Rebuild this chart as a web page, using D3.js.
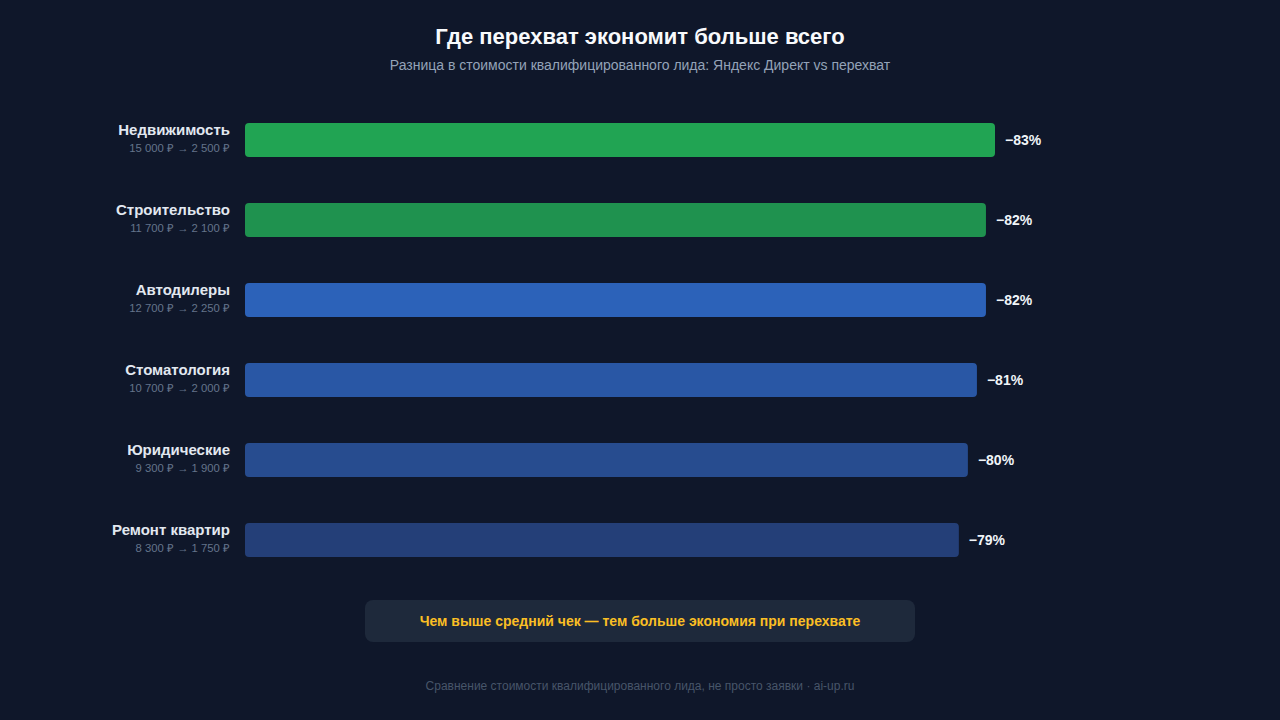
<!DOCTYPE html>
<html>
<head>
<meta charset="utf-8">
<script src="https://cdn.jsdelivr.net/npm/d3@7"></script>
<style>
  html, body { margin: 0; padding: 0; background: #0f172a; }
  svg { display: block; font-family: "Liberation Sans", Arial, sans-serif; }
</style>
</head>
<body>
<div id="chart"></div>
<script>
// data
var niches = ["Недвижимость", "Строительство", "Автодилеры", "Стоматология", "Юридические", "Ремонт квартир"]
var directCost = ["15 000 ₽", "11 700 ₽", "12 700 ₽", "10 700 ₽", "9 300 ₽", "8 300 ₽"]
var interceptCost = ["2 500 ₽", "2 100 ₽", "2 250 ₽", "2 000 ₽", "1 900 ₽", "1 750 ₽"]
var savings = [83, 82, 82, 81, 80, 79]
var barColors = ["#21a453", "#1f924f", "#2c62b9", "#2957a5", "#274c8f", "#243f78"]

var width = 1280,
    height = 720

var svg = d3.select("#chart").append("svg")
    .attr("width", width)
    .attr("height", height)

svg.append("rect").attr("width", width).attr("height", height).attr("fill", "#0f172a")

// titles
svg.append("text")
    .attr("x", width / 2).attr("y", 44)
    .attr("text-anchor", "middle")
    .attr("fill", "#f8fafc")
    .attr("font-size", 22).attr("font-weight", "bold")
    .text("Где перехват экономит больше всего")

svg.append("text")
    .attr("x", width / 2).attr("y", 70)
    .attr("text-anchor", "middle")
    .attr("fill", "#94a3b8")
    .attr("font-size", 14)
    .text("Разница в стоимости квалифицированного лида: Яндекс Директ vs перехват")

// scales
var xScale = d3.scaleLinear()
    .domain([0, d3.max(savings)])
    .range([245, 995])

var yScale = d3.scaleBand()
    .domain(niches)
    .range([100, 580])
    .paddingInner(0.575)
    .paddingOuter(0.2875)

var rows = svg.selectAll("g.row")
    .data(niches)
    .enter().append("g")
    .attr("class", "row")

rows.append("rect")
    .attr("x", xScale(0))
    .attr("y", function(d) { return yScale(d) })
    .attr("width", function(d, i) { return xScale(savings[i]) - xScale(0) })
    .attr("height", yScale.bandwidth())
    .attr("rx", 4)
    .attr("fill", function(d, i) { return barColors[i] })

// percent at the end of each bar
rows.append("text")
    .attr("x", function(d, i) { return xScale(savings[i]) + 10 })
    .attr("y", function(d) { return yScale(d) + yScale.bandwidth() / 2 + 5 })
    .attr("fill", "#f1f5f9")
    .attr("font-size", 14).attr("font-weight", "bold")
    .text(function(d, i) { return "−" + savings[i] + "%" })

rows.append("text")
    .attr("x", 230)
    .attr("y", function(d) { return yScale(d) + 12 })
    .attr("text-anchor", "end")
    .attr("fill", "#e2e8f0")
    .attr("font-size", 15).attr("font-weight", "bold")
    .text(function(d) { return d })

rows.append("text")
    .attr("x", 230)
    .attr("y", function(d) { return yScale(d) + 29 })
    .attr("text-anchor", "end")
    .attr("fill", "#64748b")
    .attr("font-size", 11.3)
    .text(function(d, i) { return directCost[i] + " → " + interceptCost[i] })

// note box
svg.append("rect")
    .attr("x", 365).attr("y", 600)
    .attr("width", 550).attr("height", 42)
    .attr("rx", 8)
    .attr("fill", "#1e293b")

svg.append("text")
    .attr("x", 640).attr("y", 626)
    .attr("text-anchor", "middle")
    .attr("fill", "#fbbf24")
    .attr("font-size", 14).attr("font-weight", "bold")
    .text("Чем выше средний чек — тем больше экономия при перехвате")

svg.append("text")
    .attr("x", 640).attr("y", 690)
    .attr("text-anchor", "middle")
    .attr("fill", "#475569")
    .attr("font-size", 12)
    .text("Сравнение стоимости квалифицированного лида, не просто заявки · ai-up.ru")
</script>
</body>
</html>
